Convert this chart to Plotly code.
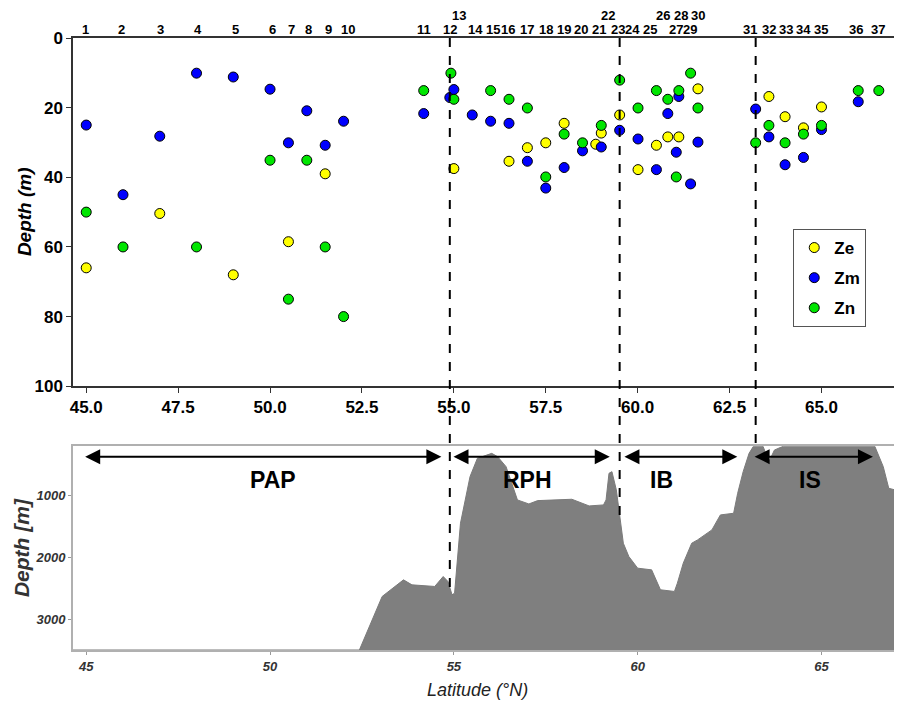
import numpy as np
import plotly.graph_objects as go

# ---------------- data ----------------
ze_lat = [45.0, 47.0, 49.0, 50.5, 51.5, 55.0, 56.5, 57.0, 57.5, 58.0, 58.86, 59.01,
          59.51, 60.01, 60.51, 60.82, 61.12, 61.64, 63.57, 64.01, 64.51, 65.0]
ze_depth = [66, 50.4, 68, 58.5, 39, 37.5, 35.4, 31.5, 30.1, 24.5, 30.5, 27.3,
            22.1, 37.8, 30.8, 28.4, 28.4, 14.6, 16.8, 22.6, 25.8, 19.8]

zm_lat = [45.0, 46.0, 47.0, 48.0, 49.0, 50.0, 50.5, 51.0, 51.5, 52.0, 54.18, 54.89,
          55.0, 55.5, 56.0, 56.5, 57.0, 57.5, 58.0, 58.5, 59.01, 59.51, 60.01, 60.51,
          60.82, 61.05, 61.12, 61.44, 61.64, 63.21, 63.57, 64.01, 64.51, 65.0, 66.0]
zm_depth = [25, 45, 28.2, 10.1, 11.2, 14.7, 30.1, 20.9, 30.8, 23.9, 21.7, 17.1,
            14.8, 22.1, 23.9, 24.5, 35.4, 43.1, 37.2, 32.4, 31.3, 26.5, 29.0, 37.8,
            21.7, 32.8, 16.8, 41.9, 29.9, 20.4, 28.4, 36.4, 34.3, 26.3, 18.3]

zn_lat = [45.0, 46.0, 48.0, 50.0, 50.5, 51.0, 51.5, 52.0, 54.18, 54.92, 55.0, 56.0,
          56.5, 57.0, 57.5, 58.0, 58.5, 59.01, 59.51, 60.01, 60.51, 60.82, 61.05, 61.12,
          61.44, 61.64, 63.21, 63.57, 64.01, 64.51, 65.0, 66.0, 66.56]
zn_depth = [50, 60, 60, 35.1, 75, 35.1, 60, 80, 15.1, 10.1, 17.6, 15.1,
            17.6, 20.1, 39.9, 27.6, 30.1, 25.1, 12.1, 20.1, 15.1, 17.6, 39.9, 15.1,
            10.1, 20.1, 30.1, 25.1, 30.1, 27.6, 25.1, 15.1, 15.1]

station_labels = [str(i) for i in range(1, 38)]
station_lat = [44.97, 45.97, 47.01, 48.04, 49.07, 50.06, 50.57, 51.04, 51.6, 52.13,
               54.18, 54.89, 55.14, 55.6, 56.06, 56.47, 56.98, 57.5, 57.99, 58.45,
               58.94, 59.18, 59.46, 59.86, 60.33, 60.68, 61.03, 61.18, 61.43, 61.65,
               63.05, 63.57, 64.03, 64.5, 65.0, 65.95, 66.53]
upper_row = ["13", "22", "26", "28", "30"]

boundary_lat = [54.89, 59.51, 63.21]

region_names = ["PAP", "RPH", "IB", "IS"]
region_start = [44.93, 54.95, 59.60, 63.14]
region_end = [54.66, 59.24, 62.71, 66.40]
region_center = [50.08, 57.0, 60.66, 64.7]

bathy_lat = [44.6, 52.43, 53.05, 53.55, 53.63, 53.86, 54.48, 54.71, 54.84, 54.95, 55.02,
             55.18, 55.33, 55.44, 55.64, 56.03, 56.19, 56.42, 56.73, 57.04, 57.28, 58.21,
             58.68, 59.07, 59.14, 59.22, 59.30, 59.42, 59.61, 59.76, 60.0, 60.38, 60.62,
             61.0, 61.08, 61.24, 61.47, 61.63, 62.02, 62.25, 62.61, 62.72, 62.87, 63.03,
             63.15, 63.41, 63.57, 63.72, 63.96, 66.45, 66.68, 66.83, 67.0]
bathy_depth = [3500, 3500, 2633, 2391, 2364, 2445, 2471, 2310, 2391, 2606, 2580,
               1447, 1016, 693, 396, 316, 369, 531, 1070, 1135, 1081, 1059,
               1167, 1151, 1070, 639, 612, 908, 1771, 1986, 2175, 2202, 2525,
               2552, 2418, 2094, 1771, 1717, 1555, 1313, 1286, 962, 612, 316,
               200, 200, 450, 262, 200, 200, 531, 881, 908]

top_xticks = [45.0, 47.5, 50.0, 52.5, 55.0, 57.5, 60.0, 62.5, 65.0]
top_yticks = [0, 20, 40, 60, 80, 100]
bot_xticks = [45, 50, 55, 60, 65]
bot_yticks = [1000, 2000, 3000]

# ---------------- figure ----------------
FONT = "Liberation Sans, Arial, sans-serif"
XR = [44.64, 67.0]
TOP_DOM = [0.431, 1.0]
BOT_DOM = [0.0, 0.333]
BOT_RANGE = [3500, 200]

fig = go.Figure()

series = [("Ze", ze_lat, ze_depth, "#FFFF00"),
          ("Zm", zm_lat, zm_depth, "#0000FF"),
          ("Zn", zn_lat, zn_depth, "#00E600")]
for name, lat, dep, col in series:
    fig.add_trace(go.Scatter(
        x=lat, y=dep, mode="markers", name=name, legendgroup=name,
        marker=dict(size=10, color=col, line=dict(color="black", width=1)),
        xaxis="x", yaxis="y"))

# bathymetry: baseline + filled profile
fig.add_trace(go.Scatter(x=bathy_lat, y=[BOT_RANGE[0]] * len(bathy_lat), mode="lines",
                         line=dict(width=0, color="#7f7f7f"), showlegend=False,
                         hoverinfo="skip", xaxis="x2", yaxis="y2"))
fig.add_trace(go.Scatter(x=bathy_lat, y=bathy_depth, mode="lines", fill="tonexty",
                         fillcolor="#7f7f7f", line=dict(width=1, color="#7a7a7a"),
                         showlegend=False, xaxis="x2", yaxis="y2"))

annotations = []
for lab, lat in zip(station_labels, station_lat):
    up = lab in upper_row
    annotations.append(dict(x=lat, y=1, xref="x", yref="paper", text=lab,
                            showarrow=False, yanchor="bottom", yshift=14 if up else 0,
                            borderpad=0,
                            font=dict(family=FONT, size=13, color="black", weight="bold")))

# region arrows and names
arrow_depth = 369
for name, s, e, c in zip(region_names, region_start, region_end, region_center):
    annotations.append(dict(x=e, y=arrow_depth, ax=s, ay=arrow_depth, xref="x2", yref="y2",
                            axref="x2", ayref="y2", text="", showarrow=True,
                            arrowhead=2, startarrowhead=2, arrowside="end+start",
                            arrowsize=1.5, startarrowsize=1.5, arrowwidth=2,
                            arrowcolor="black"))
    annotations.append(dict(x=c, y=740, xref="x2", yref="y2", text=name, showarrow=False,
                            font=dict(family=FONT, size=23, color="black", weight="bold")))

# axis titles
annotations.append(dict(x=0, y=(TOP_DOM[0] + TOP_DOM[1]) / 2, xref="paper", yref="paper",
                        xanchor="center", yanchor="middle",
                        xshift=-49, text="<b><i>Depth (m)</i></b>", textangle=-90,
                        showarrow=False, font=dict(family=FONT, size=19, color="black")))
annotations.append(dict(x=0, y=(BOT_DOM[0] + BOT_DOM[1]) / 2, xref="paper", yref="paper",
                        xanchor="center", yanchor="middle",
                        xshift=-52, text="<b><i>Depth [m]</i></b>", textangle=-90,
                        showarrow=False, font=dict(family=FONT, size=21, color="#333")))
annotations.append(dict(x=(478 - 73) / 824, y=0, xref="paper", yref="paper",
                        xanchor="center", yanchor="middle", yshift=-40,
                        text="<i>Latitude (°N)</i>", showarrow=False,
                        font=dict(family=FONT, size=18, color="#222")))

# dashed boundary lines from top of upper panel into bathymetry
shapes = []
for b in boundary_lat:
    d_end = float(np.interp(b, bathy_lat, bathy_depth))
    y_end = BOT_DOM[0] + (BOT_DOM[1] - BOT_DOM[0]) * (BOT_RANGE[0] - d_end) / (BOT_RANGE[0] - BOT_RANGE[1])
    shapes.append(dict(type="line", xref="x", yref="paper", x0=b, x1=b, y0=1, y1=y_end,
                       line=dict(color="black", width=2, dash="dash"), layer="above"))

fig.update_layout(
    width=894, height=700,
    margin=dict(l=65, r=5, t=30, b=58),
    paper_bgcolor="white", plot_bgcolor="white",
    font=dict(family=FONT, color="black"),
    showlegend=True,
    legend=dict(x=(795 - 73) / 824, y=(650 - 229) / 612, xanchor="left", yanchor="top",
                bordercolor="#555", borderwidth=1, bgcolor="white", tracegroupgap=5,
                font=dict(family=FONT, size=17, color="black", weight="bold")),
    xaxis=dict(domain=[0, 1], anchor="y", range=XR, tickvals=top_xticks,
               ticktext=[f"{v:.1f}" for v in top_xticks], ticks="outside", ticklen=5,
               tickcolor="#333", showline=True, mirror=True, linecolor="#333", linewidth=1.5,
               showgrid=False, zeroline=False,
               tickfont=dict(family=FONT, size=17, color="black", weight="bold")),
    yaxis=dict(domain=TOP_DOM, anchor="x", range=[100, 0], tickvals=top_yticks,
               ticks="outside", ticklen=5, tickcolor="#333", showline=True, mirror=True,
               linecolor="#333", linewidth=1.5, showgrid=False, zeroline=False,
               tickfont=dict(family=FONT, size=17, color="black", weight="bold")),
    xaxis2=dict(domain=[0, 1], anchor="y2", range=XR, tickvals=bot_xticks,
                ticks="outside", ticklen=3, tickcolor="#999", showline=True, mirror=True,
                linecolor="#b0b0b0", linewidth=2, showgrid=False, zeroline=False,
                tickfont=dict(family=FONT, size=13, color="#333", weight="bold",
                              style="italic")),
    yaxis2=dict(domain=BOT_DOM, anchor="x2", range=BOT_RANGE, tickvals=bot_yticks,
                ticks="outside", ticklen=3, tickcolor="#999", showline=True, mirror=True,
                linecolor="#b0b0b0", linewidth=2, showgrid=False, zeroline=False,
                tickfont=dict(family=FONT, size=13, color="#333", weight="bold",
                              style="italic")),
    annotations=annotations,
    shapes=shapes,
)

fig.write_html("out.html")
